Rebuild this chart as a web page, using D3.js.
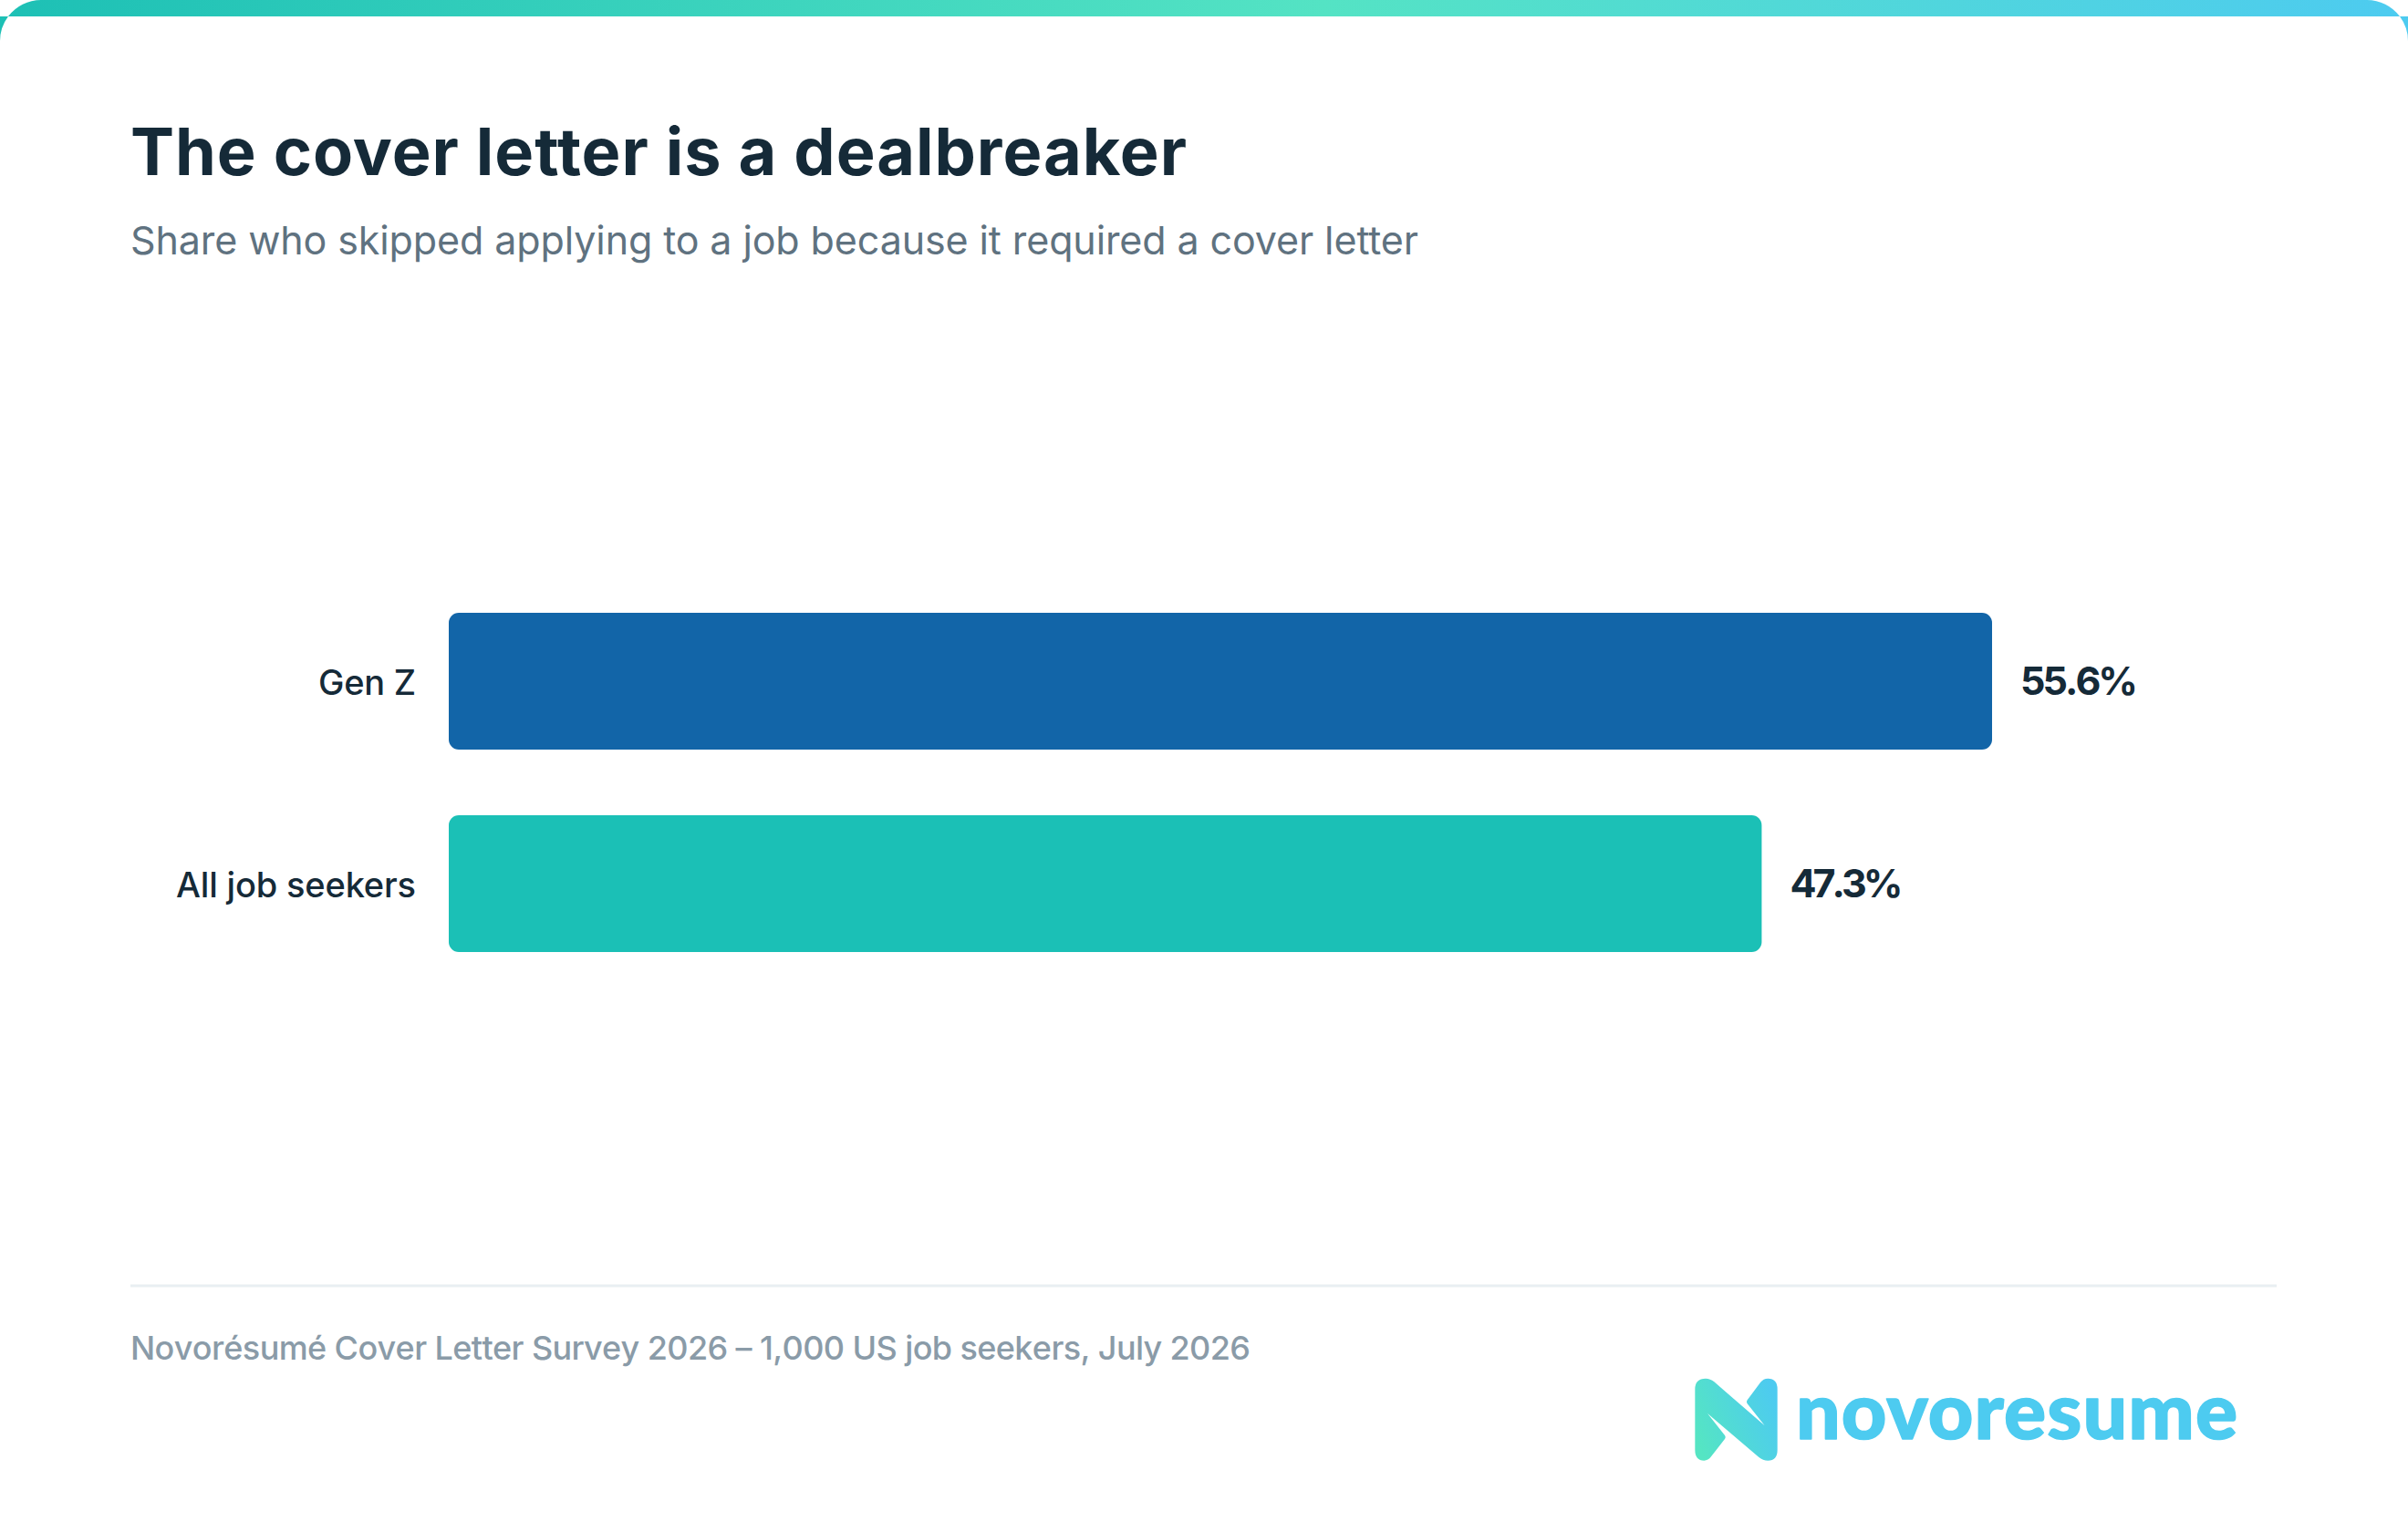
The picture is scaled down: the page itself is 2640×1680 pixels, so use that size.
<!DOCTYPE html>
<html>
<head>
<meta charset="utf-8">
<script src="https://cdnjs.cloudflare.com/ajax/libs/d3/7.8.5/d3.min.js"></script>
<style>
  html, body { margin: 0; padding: 0; background: #fff; }
  svg { display: block; }
  text { font-family: Inter, "Open Sans", sans-serif; }
</style>
</head>
<body>
<div id="chart"></div>
<script>
var categories = ["Gen Z", "All job seekers"];
var values = [55.6, 47.3];
var barColors = ["#1265a8", "#1bc0b6"];

var titleText = "The cover letter is a dealbreaker";
var subtitleText = "Share who skipped applying to a job because it required a cover letter";
var sourceText = "Novorésumé Cover Letter Survey 2026 – 1,000 US job seekers, July 2026";
var brandText = "novoresume";

var width = 2640,
  height = 1680;

var svg = d3.select("#chart")
  .append("svg")
  .attr("width", width)
  .attr("height", height);

var defs = svg.append("defs");

var topGrad = defs.append("linearGradient")
  .attr("id", "topGrad")
  .attr("gradientUnits", "userSpaceOnUse")
  .attr("x1", 0).attr("x2", width).attr("y1", 0).attr("y2", 0);
topGrad.append("stop").attr("offset", "0%").attr("stop-color", "#1dc0b5");
topGrad.append("stop").attr("offset", "55%").attr("stop-color", "#54e3c4");
topGrad.append("stop").attr("offset", "100%").attr("stop-color", "#4dcbf0");

var logoGrad = defs.append("linearGradient")
  .attr("id", "logoGrad")
  .attr("x1", 0).attr("y1", 0.7).attr("x2", 1).attr("y2", 0.3);
logoGrad.append("stop").attr("offset", "0%").attr("stop-color", "#55e5c3");
logoGrad.append("stop").attr("offset", "100%").attr("stop-color", "#4dcbf0");

// top strip and the little slivers under its corners
var r = 45, stripH = 18, cut = 9;
var strip = svg.append("g").attr("fill", "url(#topGrad)");
strip.append("path").attr("d",
  "M" + cut + "," + stripH + "A" + r + "," + r + " 0 0 1 " + r + ",0H" + (width - r) +
  "A" + r + "," + r + " 0 0 1 " + (width - cut) + "," + stripH + "Z");
strip.append("path").attr("d",
  "M0," + stripH + "H" + cut + "A" + r + "," + r + " 0 0 0 0," + r + "Z");
strip.append("path").attr("d",
  "M" + width + "," + stripH + "H" + (width - cut) + "A" + r + "," + r + " 0 0 1 " + width + "," + r + "Z");

// titles
svg.append("text")
  .attr("x", 143).attr("y", 192)
  .attr("font-size", 72).attr("font-weight", 700)
  .attr("fill", "#152a38")
  .attr("textLength", 1158)
  .text(titleText);

svg.append("text")
  .attr("x", 143).attr("y", 279)
  .attr("font-size", 43).attr("font-weight", 400)
  .attr("fill", "#5f7280")
  .attr("textLength", 1412)
  .text(subtitleText);

// bars
var x = d3.scaleLinear()
  .domain([0, 55.6])
  .range([492, 2184]);

var y = d3.scaleBand()
  .domain(categories)
  .range([672, 1044])
  .paddingInner(72 / 222);

var rows = categories.map(function(c, i) {
  return { category: c, value: values[i], color: barColors[i] };
});

svg.append("g")
  .selectAll("rect")
  .data(rows)
  .enter().append("rect")
  .attr("x", x(0))
  .attr("y", function(d) { return y(d.category); })
  .attr("width", function(d) { return x(d.value) - x(0); })
  .attr("height", y.bandwidth())
  .attr("rx", 11)
  .attr("fill", function(d) { return d.color; });

// category labels
var yAxis = d3.axisLeft(y).tickSize(0).tickPadding(36);
var axisG = svg.append("g")
  .attr("transform", "translate(" + x(0) + ",0)")
  .call(yAxis);
axisG.select(".domain").remove();
var labelWidths = [107, 263];
axisG.selectAll("text")
  .style("font-family", "Inter, 'Open Sans', sans-serif")
  .attr("font-size", 38)
  .attr("font-weight", 500)
  .attr("fill", "#152a38")
  .attr("dy", "0.4em")
  .attr("textLength", function(d, i) { return labelWidths[i]; });

// value labels
var format = d3.format(".1f");
var valueWidths = [129, 124];
svg.append("g")
  .selectAll("text")
  .data(rows)
  .enter().append("text")
  .attr("x", function(d) { return x(d.value) + 31; })
  .attr("y", function(d) { return y(d.category) + y.bandwidth() / 2; })
  .attr("dy", "0.36em")
  .attr("font-size", 43)
  .attr("font-weight", 700)
  .attr("fill", "#152a38")
  .style("font-kerning", "none")
  .style("font-feature-settings", "'calt' 0")
  .attr("textLength", function(d, i) { return valueWidths[i]; })
  .text(function(d) { return format(d.value) + "%"; });

// footer
svg.append("line")
  .attr("x1", 143).attr("x2", 2496)
  .attr("y1", 1410).attr("y2", 1410)
  .attr("stroke", "#e9eff2")
  .attr("stroke-width", 3);

svg.append("text")
  .attr("x", 143).attr("y", 1491)
  .attr("font-size", 36).attr("font-weight", 500)
  .attr("fill", "#8a9ba8")
  .style("font-kerning", "none")
  .style("font-feature-settings", "'calt' 0")
  .attr("textLength", 1228)
  .text(sourceText);

// logo
svg.append("path")
  .attr("transform", "translate(1840,1500) scale(0.3333)")
  .attr("fill", "url(#logoGrad)")
  .attr("d", "M55,70Q55,35 90,35Q105,35 118,46L284,190L227,118Q223,112 227,106L270,48Q280,35 295,35" +
    "Q326,35 326,70V270Q326,305 295,305Q278,305 265,294L96,150L153,222Q157,228 153,234L108,292Q98,305 85,305" +
    "Q55,305 55,270Z");

svg.append("text")
  .attr("x", 1969).attr("y", 1578)
  .style("font-family", "Lato, sans-serif")
  .attr("font-size", 86)
  .attr("font-weight", 900)
  .attr("fill", "#4dcbf0")
  .attr("stroke", "#4dcbf0")
  .attr("stroke-width", 1.5)
  .attr("stroke-linejoin", "round")
  .attr("textLength", 484)
  .text(brandText);
</script>
</body>
</html>
